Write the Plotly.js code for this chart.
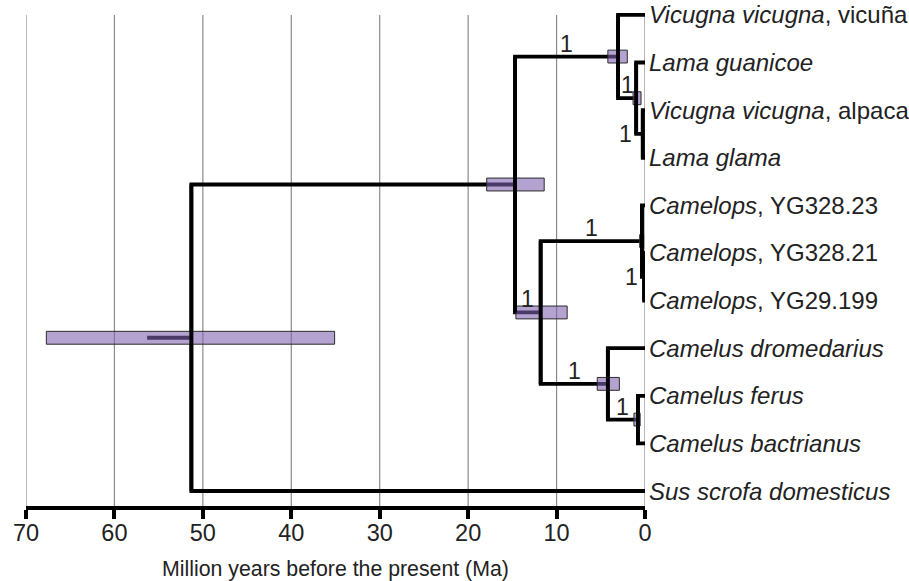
<!DOCTYPE html>
<html><head><meta charset="utf-8">
<script src="https://cdn.plot.ly/plotly-3.0.1.min.js"></script>
<style>html,body{margin:0;padding:0;background:#fff}#chart{width:909px;height:581px}</style>
</head><body><div id="chart"></div>
<script>
// ---- data ----
const tipLabels = [
  '<i>Vicugna vicugna</i>, vicuña',
  '<i>Lama guanicoe</i>',
  '<i>Vicugna vicugna</i>, alpaca',
  '<i>Lama glama</i>',
  '<i>Camelops</i>, YG328.23',
  '<i>Camelops</i>, YG328.21',
  '<i>Camelops</i>, YG29.199',
  '<i>Camelus dromedarius</i>',
  '<i>Camelus ferus</i>',
  '<i>Camelus bactrianus</i>',
  '<i>Sus scrofa domesticus</i>'
];
const nodeNames    = ['root', 'A', 'B', 'C', 'D', 'E', 'F', 'G', 'H', 'I'];
const nodeChildren = [['A','t10'], ['B','E'], ['t0','C'], ['t1','D'], ['t2','t3'],
                      ['F','H'], ['t4','G'], ['t5','t6'], ['t7','I'], ['t8','t9']];
const nodeAges     = [51.3, 14.7, 3.05, 1.0, 0.25, 11.8, 0.35, 0.1, 4.2, 0.8];
const hpdYoung     = [35.1, 11.4, 2.0, 0.45, 0.1, 8.8, 0.15, 0.03, 2.9, 0.55];
const hpdOld       = [67.7, 17.9, 4.2, 1.35, 0.4, 14.6, 0.6, 0.2, 5.4, 1.25];
const posterior    = [null, null, 1, 1, 1, 1, 1, 1, 1, 1];
const rootBranchStart = 56.3;
const tickValues = [70, 60, 50, 40, 30, 20, 10, 0];
const tickLabels = ['70', '60', '50', '40', '30', '20', '10', '0'];
const axisTitle = 'Million years before the present (Ma)';

// ---- layout constants ----
const X_RANGE = [70, 0];
const Y_RANGE = [10.315, -0.25];
const PX_PER_MA = 619 / 70;
const BOX_HALF = 0.135;
const FONT = 'Liberation Sans, Arial, Helvetica, sans-serif';
const TXT = '#222';

// ---- geometry from tree ----
const idx = {}; nodeNames.forEach((n, i) => idx[n] = i);
const parent = {};
nodeChildren.forEach((ch, i) => ch.forEach(c => parent[c] = nodeNames[i]));
const memo = {};
function pos(id) {
  if (memo[id]) return memo[id];
  let p;
  if (id[0] === 't' && !isNaN(+id.slice(1))) {
    p = {x: 0, y: +id.slice(1)};
  } else {
    const i = idx[id];
    const ys = nodeChildren[i].map(c => pos(c).y);
    p = {x: nodeAges[i], y: (ys[0] + ys[1]) / 2};
  }
  memo[id] = p; return p;
}

const ex = [], ey = [], vx = [], vy = [], bx = [], by = [];
nodeNames.forEach((n, i) => {
  const p = pos(n);
  const c1 = pos(nodeChildren[i][0]), c2 = pos(nodeChildren[i][1]);
  ex.push(c1.x, p.x, p.x, c2.x, null);
  ey.push(c1.y, c1.y, c2.y, c2.y, null);
  vx.push(p.x, p.x, null);
  vy.push(c1.y, c2.y, null);
  bx.push(hpdYoung[i], hpdOld[i], hpdOld[i], hpdYoung[i], hpdYoung[i], null);
  by.push(p.y - BOX_HALF, p.y - BOX_HALF, p.y + BOX_HALF, p.y + BOX_HALF, p.y - BOX_HALF, null);
});
const rp = pos('root');
const rootX = [rootBranchStart, rp.x], rootY = [rp.y, rp.y];

const traces = [
  {x: ex, y: ey, mode: 'lines', line: {color: '#000', width: 3.8}, hoverinfo: 'skip'},
  {x: rootX, y: rootY, mode: 'lines', line: {color: '#000', width: 3.8}, hoverinfo: 'skip'},
  {x: bx, y: by, mode: 'lines', fill: 'toself', fillcolor: 'rgba(127,98,175,0.59)',
   line: {color: '#2b2b2b', width: 1}, hoverinfo: 'skip'},
  {x: vx, y: vy, mode: 'lines', line: {color: '#000', width: 3.8}, hoverinfo: 'skip'}
];

const shapes = tickValues.map(v => ({
  type: 'line', xref: 'x', yref: 'y', x0: v, x1: v, y0: 0, y1: Y_RANGE[0],
  line: {color: '#8a8a8a', width: 1.2}, layer: 'below'
}));

const annotations = [];
tipLabels.forEach((t, i) => annotations.push({
  x: 0, y: i, xref: 'x', yref: 'y', text: t, showarrow: false,
  xanchor: 'left', yanchor: 'middle', xshift: 2,
  font: {family: FONT, size: 24, color: TXT}
}));
nodeNames.forEach((n, i) => {
  if (posterior[i] == null) return;
  const p = pos(n), pa = pos(parent[n]);
  const lenPx = (pa.x - p.x) * PX_PER_MA;
  if (lenPx > 12) {
    annotations.push({x: (pa.x + p.x) / 2, y: p.y, xref: 'x', yref: 'y', text: String(posterior[i]),
      showarrow: false, xanchor: 'center', yanchor: 'middle', yshift: 13,
      font: {family: FONT, size: 23, color: TXT}});
  } else {
    annotations.push({x: pa.x, y: p.y, xref: 'x', yref: 'y', text: String(posterior[i]),
      showarrow: false, xanchor: 'right', yanchor: 'middle', xshift: -2,
      font: {family: FONT, size: 23, color: TXT}});
  }
});

const layout = {
  width: 909, height: 581,
  margin: {l: 26, r: 264, t: 3, b: 75},
  paper_bgcolor: '#fff', plot_bgcolor: '#fff',
  showlegend: false, hovermode: false,
  xaxis: {
    range: X_RANGE, autorange: false, tickmode: 'array', tickvals: tickValues, ticktext: tickLabels,
    showgrid: false, zeroline: false, showline: true, linecolor: '#000', linewidth: 4,
    ticks: 'outside', ticklen: 9, tickwidth: 4, tickcolor: '#000',
    ticklabelstandoff: -6,
    tickfont: {family: FONT, size: 23.5, color: TXT},
    title: {text: axisTitle, font: {family: FONT, size: 21.3, color: TXT}, standoff: 17}
  },
  yaxis: {range: Y_RANGE, autorange: false, visible: false},
  shapes: shapes,
  annotations: annotations
};
Plotly.newPlot('chart', traces, layout, {staticPlot: true, displayModeBar: false});
</script></body></html>
